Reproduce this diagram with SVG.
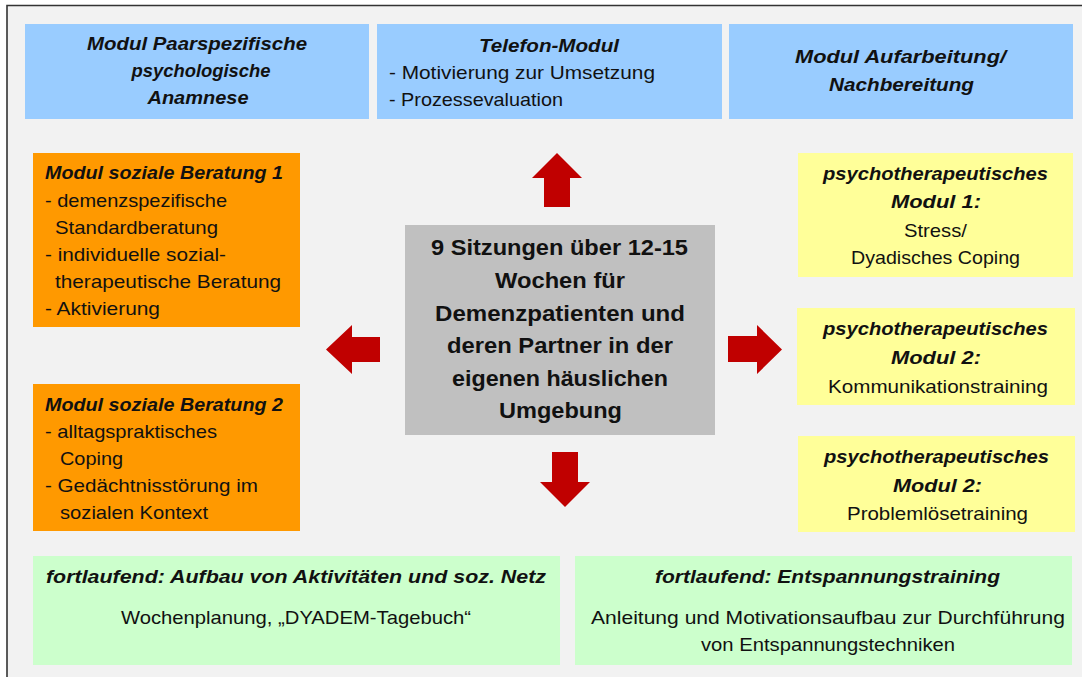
<svg xmlns="http://www.w3.org/2000/svg" width="1082" height="677" viewBox="0 0 1082 677">
<style>
.t{font-family:"Liberation Sans",Arial,sans-serif;font-size:18.6px;fill:#111}
.bi{font-weight:bold;font-style:italic}
.b{font-weight:bold;font-size:21.5px}
.m{text-anchor:middle}
.blue{fill:#99ccff}
.orange{fill:#ff9900}
.yellow{fill:#ffff99}
.green{fill:#ccffcc}
.gray{fill:#c0c0c0}
.arrow{fill:#c00000}
</style>
<rect x="0" y="0" width="1082" height="677" fill="#ffffff"/>
<rect x="7" y="5.5" width="1075" height="672" fill="#f2f2f2"/>
<path d="M7,677 V5.5 H1082" fill="none" stroke="#333333" stroke-width="1.6"/>

<g id="anamnese">
<rect class="blue" x="25" y="24" width="344" height="95"/>
<text class="t bi m" x="197" y="50" textLength="220" lengthAdjust="spacingAndGlyphs">Modul Paarspezifische</text>
<text class="t bi m" x="201" y="77" textLength="139" lengthAdjust="spacingAndGlyphs">psychologische</text>
<text class="t bi m" x="198" y="104" textLength="101" lengthAdjust="spacingAndGlyphs">Anamnese</text>
</g>

<g id="telefon">
<rect class="blue" x="377" y="24" width="345" height="95"/>
<text class="t bi m" x="549" y="52" textLength="140" lengthAdjust="spacingAndGlyphs">Telefon-Modul</text>
<text class="t" x="389" y="79" textLength="266" lengthAdjust="spacingAndGlyphs">- Motivierung zur Umsetzung</text>
<text class="t" x="389" y="106" textLength="174" lengthAdjust="spacingAndGlyphs">- Prozessevaluation</text>
</g>

<g id="aufarbeitung">
<rect class="blue" x="729" y="24" width="344" height="95"/>
<text class="t bi m" x="900.5" y="63" textLength="211" lengthAdjust="spacingAndGlyphs">Modul Aufarbeitung/</text>
<text class="t bi m" x="901.5" y="91" textLength="145" lengthAdjust="spacingAndGlyphs">Nachbereitung</text>
</g>

<g id="beratung1">
<rect class="orange" x="33" y="153" width="267" height="174"/>
<text class="t bi" x="45" y="179" textLength="238" lengthAdjust="spacingAndGlyphs">Modul soziale Beratung 1</text>
<text class="t" x="45" y="207" textLength="182" lengthAdjust="spacingAndGlyphs">- demenzspezifische</text>
<text class="t" x="55" y="234" textLength="163" lengthAdjust="spacingAndGlyphs">Standardberatung</text>
<text class="t" x="45" y="261" textLength="181" lengthAdjust="spacingAndGlyphs">- individuelle sozial-</text>
<text class="t" x="55" y="288" textLength="226" lengthAdjust="spacingAndGlyphs">therapeutische  Beratung</text>
<text class="t" x="45" y="315" textLength="115" lengthAdjust="spacingAndGlyphs">- Aktivierung</text>
</g>

<g id="beratung2">
<rect class="orange" x="33" y="384" width="267" height="147"/>
<text class="t bi" x="45" y="411" textLength="238" lengthAdjust="spacingAndGlyphs">Modul soziale Beratung 2</text>
<text class="t" x="45" y="438" textLength="172" lengthAdjust="spacingAndGlyphs">- alltagspraktisches</text>
<text class="t" x="60" y="465" textLength="63" lengthAdjust="spacingAndGlyphs">Coping</text>
<text class="t" x="45" y="492" textLength="213" lengthAdjust="spacingAndGlyphs">- Gedächtnisstörung im</text>
<text class="t" x="60" y="519" textLength="148" lengthAdjust="spacingAndGlyphs">sozialen Kontext</text>
</g>

<g id="zentrum">
<rect class="gray" x="405" y="225" width="310" height="210"/>
<text class="t b m" x="559.5" y="255" textLength="257" lengthAdjust="spacingAndGlyphs">9 Sitzungen über 12-15</text>
<text class="t b m" x="560" y="288" textLength="130" lengthAdjust="spacingAndGlyphs">Wochen für</text>
<text class="t b m" x="560" y="321" textLength="250" lengthAdjust="spacingAndGlyphs">Demenzpatienten und</text>
<text class="t b m" x="560" y="353" textLength="226" lengthAdjust="spacingAndGlyphs">deren Partner in der</text>
<text class="t b m" x="560" y="386" textLength="216" lengthAdjust="spacingAndGlyphs">eigenen häuslichen</text>
<text class="t b m" x="560.5" y="418" textLength="123" lengthAdjust="spacingAndGlyphs">Umgebung</text>
</g>

<g id="psycho1">
<rect class="yellow" x="798" y="153" width="275" height="124"/>
<text class="t bi m" x="935.5" y="180" textLength="225" lengthAdjust="spacingAndGlyphs">psychotherapeutisches</text>
<text class="t bi m" x="936" y="208" textLength="90" lengthAdjust="spacingAndGlyphs">Modul 1:</text>
<text class="t m" x="935.5" y="237" textLength="63" lengthAdjust="spacingAndGlyphs">Stress/</text>
<text class="t m" x="935.5" y="264" textLength="169" lengthAdjust="spacingAndGlyphs">Dyadisches Coping</text>
</g>

<g id="psycho2">
<rect class="yellow" x="797" y="308" width="278" height="97"/>
<text class="t bi m" x="935.5" y="335" textLength="225" lengthAdjust="spacingAndGlyphs">psychotherapeutisches</text>
<text class="t bi m" x="936" y="364" textLength="90" lengthAdjust="spacingAndGlyphs">Modul 2:</text>
<text class="t m" x="938" y="393" textLength="220" lengthAdjust="spacingAndGlyphs">Kommunikationstraining</text>
</g>

<g id="psycho3">
<rect class="yellow" x="798" y="436" width="277" height="96"/>
<text class="t bi m" x="936.5" y="463" textLength="225" lengthAdjust="spacingAndGlyphs">psychotherapeutisches</text>
<text class="t bi m" x="937.5" y="492" textLength="89" lengthAdjust="spacingAndGlyphs">Modul 2:</text>
<text class="t m" x="937.5" y="520" textLength="181" lengthAdjust="spacingAndGlyphs">Problemlösetraining</text>
</g>

<g id="aktivitaeten">
<rect class="green" x="33" y="556" width="527" height="109"/>
<text class="t bi m" x="296" y="583" textLength="500" lengthAdjust="spacingAndGlyphs">fortlaufend: Aufbau von Aktivitäten und soz. Netz</text>
<text class="t m" x="296" y="624" textLength="350" lengthAdjust="spacingAndGlyphs">Wochenplanung, „DYADEM-Tagebuch“</text>
</g>

<g id="entspannung">
<rect class="green" x="575" y="556" width="497" height="109"/>
<text class="t bi m" x="827.5" y="583" textLength="345" lengthAdjust="spacingAndGlyphs">fortlaufend:  Entspannungstraining</text>
<text class="t m" x="828" y="624" textLength="474" lengthAdjust="spacingAndGlyphs">Anleitung und Motivationsaufbau zur Durchführung</text>
<text class="t m" x="828" y="651" textLength="254" lengthAdjust="spacingAndGlyphs">von Entspannungstechniken</text>
</g>

<g id="connectors">
<polygon class="arrow" points="557,153 582,178 570,178 570,207 544,207 544,178 532,178"/>
<polygon class="arrow" points="565,507 590,482 578,482 578,452 552,452 552,482 540,482"/>
<polygon class="arrow" points="326,349.5 352,325 352,337 380,337 380,362 352,362 352,374"/>
<polygon class="arrow" points="782,349.5 757,325 757,336 728,336 728,362 757,362 757,374"/>
</g>
</svg>
